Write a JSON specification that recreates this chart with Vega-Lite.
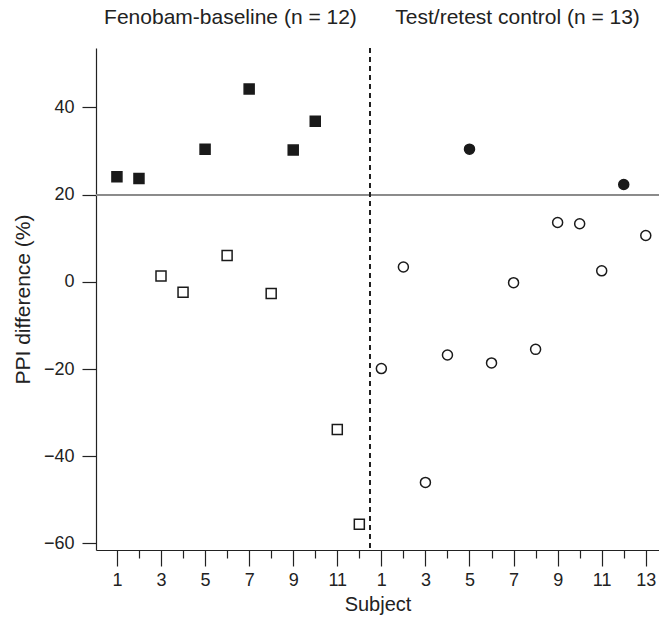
{
  "$schema": "https://vega.github.io/schema/vega-lite/v6.json",
  "width": 563,
  "height": 502,
  "autosize": {"type": "none"},
  "padding": {"left": 96, "top": 48, "right": 0, "bottom": 69},
  "config": {
    "view": {"stroke": null},
    "font": "Liberation Sans",
    "axis": {
      "grid": false,
      "domainColor": "#222222",
      "tickColor": "#222222",
      "labelColor": "#222222",
      "titleColor": "#222222",
      "labelFont": "Liberation Sans",
      "titleFont": "Liberation Sans",
      "titleFontWeight": "normal",
      "domainWidth": 1.2,
      "tickWidth": 1.2,
      "labelLimit": 0
    }
  },
  "data": {
    "values": [
      {"pos": 1, "group": "Fenobam", "diff": 24.1, "filled": "yes"},
      {"pos": 2, "group": "Fenobam", "diff": 23.7, "filled": "yes"},
      {"pos": 3, "group": "Fenobam", "diff": 1.3, "filled": "no"},
      {"pos": 4, "group": "Fenobam", "diff": -2.4, "filled": "no"},
      {"pos": 5, "group": "Fenobam", "diff": 30.4, "filled": "yes"},
      {"pos": 6, "group": "Fenobam", "diff": 6.0, "filled": "no"},
      {"pos": 7, "group": "Fenobam", "diff": 44.2, "filled": "yes"},
      {"pos": 8, "group": "Fenobam", "diff": -2.7, "filled": "no"},
      {"pos": 9, "group": "Fenobam", "diff": 30.2, "filled": "yes"},
      {"pos": 10, "group": "Fenobam", "diff": 36.8, "filled": "yes"},
      {"pos": 11, "group": "Fenobam", "diff": -33.9, "filled": "no"},
      {"pos": 12, "group": "Fenobam", "diff": -55.6, "filled": "no"},
      {"pos": 13, "group": "Control", "diff": -19.9, "filled": "no"},
      {"pos": 14, "group": "Control", "diff": 3.4, "filled": "no"},
      {"pos": 15, "group": "Control", "diff": -46.0, "filled": "no"},
      {"pos": 16, "group": "Control", "diff": -16.8, "filled": "no"},
      {"pos": 17, "group": "Control", "diff": 30.4, "filled": "yes"},
      {"pos": 18, "group": "Control", "diff": -18.6, "filled": "no"},
      {"pos": 19, "group": "Control", "diff": -0.2, "filled": "no"},
      {"pos": 20, "group": "Control", "diff": -15.5, "filled": "no"},
      {"pos": 21, "group": "Control", "diff": 13.6, "filled": "no"},
      {"pos": 22, "group": "Control", "diff": 13.3, "filled": "no"},
      {"pos": 23, "group": "Control", "diff": 2.5, "filled": "no"},
      {"pos": 24, "group": "Control", "diff": 22.3, "filled": "yes"},
      {"pos": 25, "group": "Control", "diff": 10.6, "filled": "no"}
    ]
  },
  "resolve": {"axis": {"x": "independent"}},
  "layer": [
    {
      "mark": {"type": "rule", "color": "#8a8a8a", "strokeWidth": 1.2},
      "encoding": {"y": {"datum": 20, "type": "quantitative"}}
    },
    {
      "mark": {"type": "rule", "color": "#222222", "strokeWidth": 1, "strokeDash": [5, 4]},
      "encoding": {
        "x": {
          "datum": 12.5,
          "type": "quantitative",
          "axis": {
            "orient": "top",
            "title": null,
            "domain": false,
            "ticks": false,
            "tickSize": 0,
            "values": [6.13, 19.16],
            "labelExpr": "datum.value < 12 ? 'Fenobam-baseline (n = 12)' : 'Test/retest control (n = 13)'",
            "labelFontSize": 21,
            "labelPadding": 21,
            "labelOverlap": false,
            "labelFlush": false,
            "labelBound": false
          }
        }
      }
    },
    {
      "mark": {"type": "point", "filled": false, "size": 100, "stroke": "#1a1a1a", "strokeWidth": 1.5, "opacity": 1},
      "encoding": {
        "x": {
          "field": "pos",
          "type": "quantitative",
          "scale": {"domain": [0.05, 25.6], "nice": false, "zero": false},
          "axis": {
            "orient": "bottom",
            "title": "Subject",
            "titleFontSize": 20,
            "titlePadding": 5,
            "values": [1,2,3,4,5,6,7,8,9,10,11,12,13,14,15,16,17,18,19,20,21,22,23,24,25],
            "labelExpr": "datum.value % 2 == 1 ? (datum.value <= 12 ? '' + datum.value : '' + (datum.value - 12)) : ''",
            "labelFontSize": 18,
            "labelPadding": 5,
            "labelOverlap": false,
            "labelFlush": false,
            "tickSize": {"condition": {"test": "datum.value % 2 == 0", "value": 8}, "value": 16}
          }
        },
        "y": {
          "field": "diff",
          "type": "quantitative",
          "scale": {"domain": [-61.5, 53.6], "nice": false, "zero": false},
          "axis": {
            "title": "PPI difference (%)",
            "titleFontSize": 21,
            "titlePadding": 10,
            "values": [-60, -40, -20, 0, 20, 40],
            "labelFontSize": 18,
            "labelPadding": 8,
            "tickSize": 14
          }
        },
        "shape": {
          "field": "group",
          "type": "nominal",
          "scale": {"domain": ["Fenobam", "Control"], "range": ["square", "circle"]},
          "legend": null
        },
        "fill": {
          "field": "filled",
          "type": "nominal",
          "scale": {"domain": ["yes", "no"], "range": ["#1a1a1a", "#ffffff"]},
          "legend": null
        }
      }
    }
  ]
}
